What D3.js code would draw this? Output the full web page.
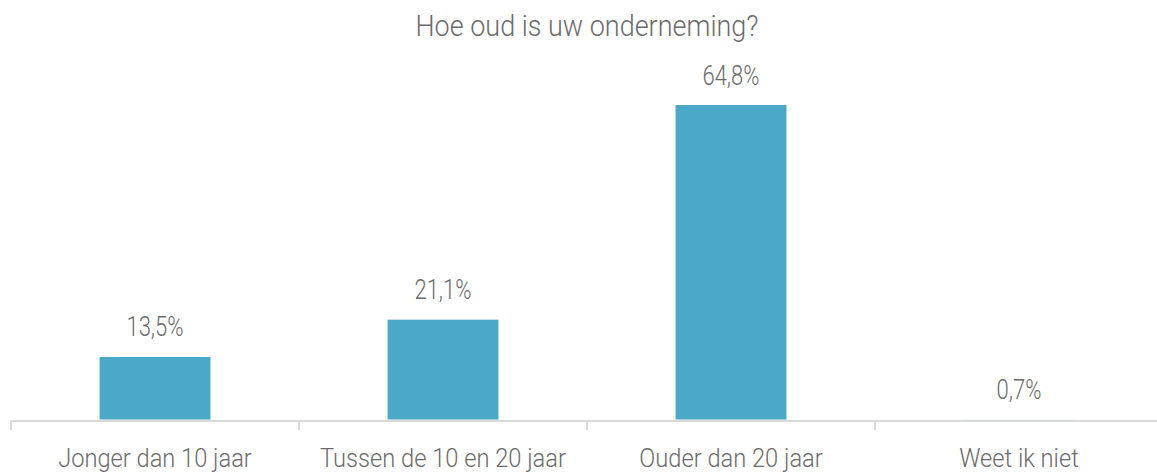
<!DOCTYPE html>
<html><head><meta charset="utf-8">
<script src="https://cdn.jsdelivr.net/npm/d3@7"></script>
<style>body{margin:0;background:#fff}</style></head>
<body><svg id="c" width="1157" height="475"></svg>
<script>
// Data
const title = "Hoe oud is uw onderneming?";
const categories = ["Jonger dan 10 jaar", "Tussen de 10 en 20 jaar", "Ouder dan 20 jaar", "Weet ik niet"];
const values = [13.5, 21.1, 64.8, 0.7];
const valueLabels = ["13,5%", "21,1%", "64,8%", "0,7%"];

const W = 1157, H = 475;
const barColor = "#4BA9C8", textColor = "#6b6b6b", axisColor = "#d9d9d9";
const font = "Roboto, 'Open Sans', sans-serif";

const svg = d3.select("#c");

const x = d3.scaleBand().domain(categories).range([11, 1163]).paddingInner(0.615).paddingOuter(0.3075);
const y = d3.scaleLinear().domain([0, 64.8]).range([423.3, 105]);
const axisY = 420.5;

svg.append("clipPath").attr("id", "clip")
  .append("rect").attr("x", 0).attr("y", 0).attr("width", W).attr("height", axisY - 1);

// Bars
svg.append("g").attr("clip-path", "url(#clip)")
  .selectAll("rect").data(values).join("rect")
  .attr("x", (d, i) => x(categories[i]))
  .attr("width", x.bandwidth())
  .attr("y", d => y(d))
  .attr("height", d => y(0) - y(d))
  .attr("fill", barColor);

// Axis
const axis = d3.axisBottom(x).tickSize(0).tickFormat("");
const gAx = svg.append("g").attr("transform", `translate(0,${axisY})`).call(axis);
gAx.select(".domain").attr("stroke", axisColor).attr("stroke-width", 2);
gAx.selectAll(".tick").remove();
// Category boundary tick marks
const step = x.step();
const bounds = d3.range(categories.length + 1).map(i => 11 + i * step);
gAx.selectAll("line.b").data(bounds).join("line").attr("class", "b")
  .attr("x1", d => d).attr("x2", d => d).attr("y1", 0).attr("y2", 9.5)
  .attr("stroke", axisColor).attr("stroke-width", 2);

// Category labels
svg.append("g").selectAll("text").data(categories).join("text")
  .attr("transform", d => `translate(${x(d) + x.bandwidth() / 2},467) scale(0.91,1)`)
  .attr("text-anchor", "middle")
  .style("font-family", font).style("font-weight", 300).style("font-size", "26px")
  .attr("fill", textColor).text(d => d);

// Value labels
svg.append("g").selectAll("text").data(values).join("text")
  .attr("transform", (d, i) => `translate(${x(categories[i]) + x.bandwidth() / 2},${y(d) - 20.5}) scale(0.8,1)`)
  .attr("text-anchor", "middle")
  .style("font-family", font).style("font-weight", 300).style("font-size", "27.5px")
  .attr("fill", textColor).text((d, i) => valueLabels[i]);

// Title
svg.append("text")
  .attr("transform", `translate(587,36) scale(0.93,1)`)
  .attr("text-anchor", "middle")
  .style("font-family", font).style("font-weight", 300).style("font-size", "29px")
  .attr("fill", textColor).text(title);
</script></body></html>
